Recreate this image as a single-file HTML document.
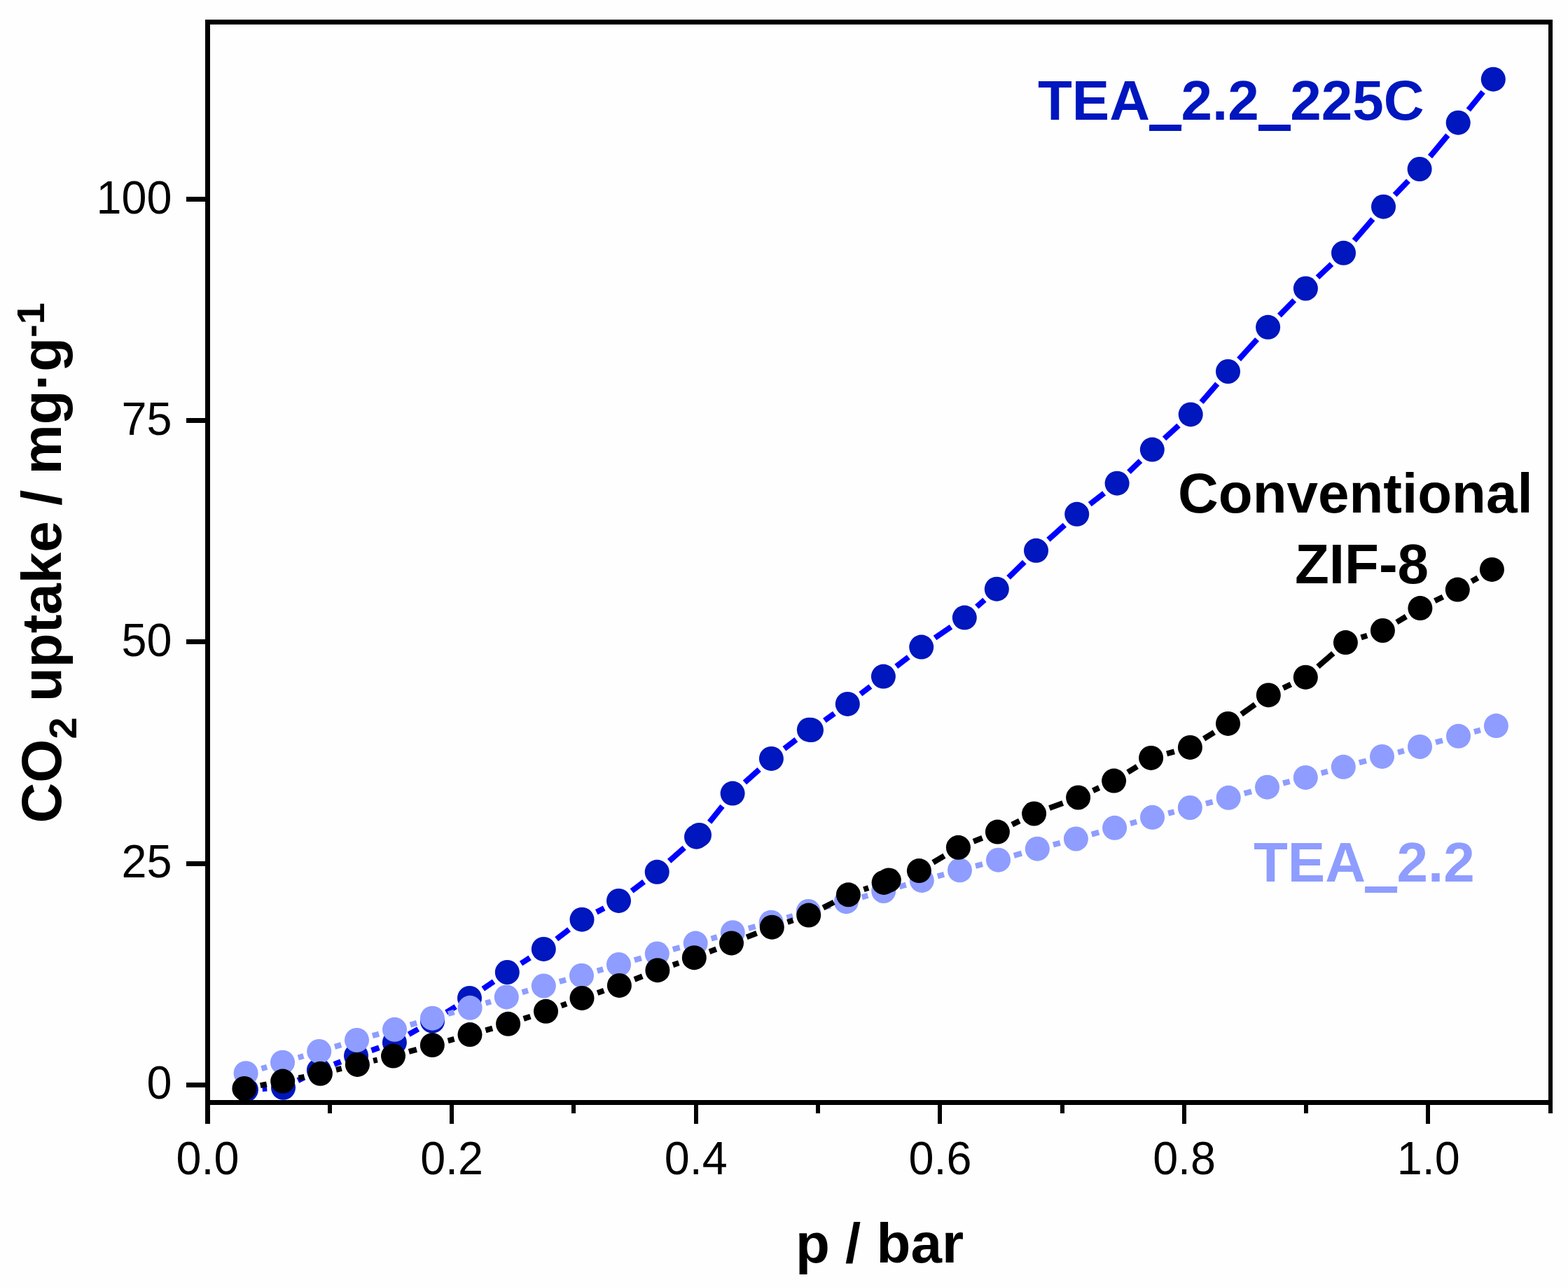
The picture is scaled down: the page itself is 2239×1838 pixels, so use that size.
<!DOCTYPE html>
<html><head><meta charset="utf-8"><title>CO2 uptake</title>
<style>html,body{margin:0;padding:0;background:#fefefe;}svg{display:block;}</style>
</head><body>
<svg width="2239" height="1838" viewBox="0 0 2239 1838">
<rect width="2239" height="1838" fill="#fefefe"/>
<defs><clipPath id="pc"><rect x="300" y="35" width="1911" height="1536"/></clipPath></defs>
<g clip-path="url(#pc)">
<path d="M374.7 1555.0L381.2 1554.6M425.4 1543.1L434.5 1538.7M477.1 1520.0L486.8 1516.2M530.5 1500.1L541.4 1496.3M583.7 1477.3L597.2 1469.6M637.3 1445.9L650.7 1437.7M689.7 1412.2L705.1 1401.7M744.0 1376.0L756.6 1367.9M794.7 1341.2L812.6 1327.4M851.8 1302.6L862.7 1297.0M902.1 1272.4L919.6 1259.3M955.6 1229.8L977.1 1210.7M1013.1 1174.3L1031.5 1151.3M1063.4 1117.5L1084.1 1099.0M1119.9 1069.3L1136.9 1056.3M1177.4 1029.0L1191.4 1019.0M1228.8 991.2L1242.9 980.3M1279.8 951.8L1297.3 938.4M1335.0 911.0L1358.0 895.2M1394.7 866.6L1405.9 856.7M1440.0 824.9L1462.8 802.6M1496.9 770.8L1520.3 749.8M1556.2 720.1L1576.6 704.4M1611.9 674.1L1628.5 658.2M1662.5 626.4L1683.0 607.6M1715.5 574.3L1738.2 548.1M1769.1 513.2L1795.0 484.6M1826.8 450.6L1848.2 428.7M1881.4 396.1L1901.5 377.2M1933.7 343.7L1960.3 312.8M1991.6 278.4L2011.0 258.3M2042.0 223.6L2067.3 193.1M2096.8 157.1L2117.7 131.3" stroke="#0000ff" stroke-width="8" fill="none"/>
<g fill="#0016be"><circle cx="351.4" cy="1556.3" r="17.5"/><circle cx="404.5" cy="1553.3" r="17.5"/><circle cx="455.4" cy="1528.5" r="17.5"/><circle cx="508.5" cy="1507.7" r="17.5"/><circle cx="563.4" cy="1488.7" r="17.5"/><circle cx="617.5" cy="1458.2" r="17.5"/><circle cx="670.5" cy="1425.4" r="17.5"/><circle cx="724.3" cy="1388.5" r="17.5"/><circle cx="776.3" cy="1355.4" r="17.5"/><circle cx="831.0" cy="1313.2" r="17.5"/><circle cx="883.5" cy="1286.4" r="17.5"/><circle cx="938.2" cy="1245.3" r="17.5"/><circle cx="994.5" cy="1195.2" r="17.5"/><circle cx="998.5" cy="1192.5" r="17.5"/><circle cx="1046.1" cy="1133.1" r="17.5"/><circle cx="1101.4" cy="1083.4" r="17.5"/><circle cx="1155.4" cy="1042.2" r="17.5"/><circle cx="1158.5" cy="1042.6" r="17.5"/><circle cx="1210.3" cy="1005.4" r="17.5"/><circle cx="1261.4" cy="966.1" r="17.5"/><circle cx="1315.7" cy="924.1" r="17.5"/><circle cx="1377.3" cy="882.1" r="17.5"/><circle cx="1423.3" cy="841.2" r="17.5"/><circle cx="1479.5" cy="786.3" r="17.5"/><circle cx="1537.7" cy="734.3" r="17.5"/><circle cx="1595.1" cy="690.2" r="17.5"/><circle cx="1645.3" cy="642.1" r="17.5"/><circle cx="1700.2" cy="591.9" r="17.5"/><circle cx="1753.5" cy="530.5" r="17.5"/><circle cx="1810.6" cy="467.3" r="17.5"/><circle cx="1864.4" cy="412.0" r="17.5"/><circle cx="1918.5" cy="361.3" r="17.5"/><circle cx="1975.5" cy="295.2" r="17.5"/><circle cx="2027.1" cy="241.5" r="17.5"/><circle cx="2082.2" cy="175.2" r="17.5"/><circle cx="2132.3" cy="113.2" r="17.5"/></g>
<path d="M373.4 1526.1L381.2 1523.8M425.8 1510.5L433.4 1508.2M478.0 1494.8L487.2 1492.1M531.9 1479.1L541.1 1476.6M585.8 1463.6L595.1 1460.9M639.9 1448.0L648.6 1445.5M693.4 1432.7L701.0 1430.5M745.6 1417.2L754.0 1414.7M798.8 1401.9L808.0 1399.3M852.8 1386.6L861.2 1384.1M905.9 1371.2L915.9 1368.3M960.8 1355.9L970.7 1353.2M1015.6 1340.6L1023.9 1338.2M1068.8 1325.8L1078.7 1323.1M1123.5 1310.6L1132.0 1308.1M1176.9 1295.7L1185.8 1293.5M1230.8 1281.3L1239.3 1278.9M1284.2 1266.3L1293.8 1263.6M1338.8 1251.3L1348.0 1248.9M1393.0 1236.8L1403.0 1234.2M1447.9 1221.8L1458.9 1218.6M1503.9 1206.4L1513.8 1203.8M1558.8 1191.6L1569.2 1188.7M1614.0 1176.1L1623.1 1173.5M1668.1 1161.5L1676.7 1159.3M1721.9 1147.7L1731.6 1145.1M1776.7 1133.2L1787.0 1130.3M1832.1 1118.5L1841.7 1116.1M1886.7 1104.1L1895.9 1101.6M1940.8 1089.2L1951.0 1086.5M1996.1 1074.6L2004.9 1072.2M2050.0 1060.2L2060.0 1057.5M2105.0 1045.2L2113.9 1042.7" stroke="#8e9dff" stroke-width="8" fill="none"/>
<g fill="#8e9dff"><circle cx="351.1" cy="1532.7" r="17.5"/><circle cx="403.5" cy="1517.2" r="17.5"/><circle cx="455.7" cy="1501.5" r="17.5"/><circle cx="509.5" cy="1485.4" r="17.5"/><circle cx="563.5" cy="1470.3" r="17.5"/><circle cx="617.4" cy="1454.2" r="17.5"/><circle cx="671.1" cy="1439.3" r="17.5"/><circle cx="723.3" cy="1423.9" r="17.5"/><circle cx="776.3" cy="1408.0" r="17.5"/><circle cx="830.5" cy="1393.2" r="17.5"/><circle cx="883.5" cy="1377.5" r="17.5"/><circle cx="938.3" cy="1362.0" r="17.5"/><circle cx="993.2" cy="1347.1" r="17.5"/><circle cx="1046.3" cy="1331.7" r="17.5"/><circle cx="1101.2" cy="1317.2" r="17.5"/><circle cx="1154.3" cy="1301.5" r="17.5"/><circle cx="1208.4" cy="1287.7" r="17.5"/><circle cx="1261.7" cy="1272.5" r="17.5"/><circle cx="1316.3" cy="1257.4" r="17.5"/><circle cx="1370.5" cy="1242.8" r="17.5"/><circle cx="1425.5" cy="1228.2" r="17.5"/><circle cx="1481.3" cy="1212.2" r="17.5"/><circle cx="1536.4" cy="1198.0" r="17.5"/><circle cx="1591.6" cy="1182.3" r="17.5"/><circle cx="1645.5" cy="1167.3" r="17.5"/><circle cx="1699.3" cy="1153.5" r="17.5"/><circle cx="1754.2" cy="1139.3" r="17.5"/><circle cx="1809.5" cy="1124.2" r="17.5"/><circle cx="1864.3" cy="1110.4" r="17.5"/><circle cx="1918.3" cy="1095.3" r="17.5"/><circle cx="1973.5" cy="1080.4" r="17.5"/><circle cx="2027.5" cy="1066.4" r="17.5"/><circle cx="2082.5" cy="1051.3" r="17.5"/><circle cx="2136.4" cy="1036.6" r="17.5"/></g>
<path d="M371.8 1550.2L380.8 1548.4M426.5 1539.5L434.6 1537.9M480.0 1527.8L487.8 1525.9M533.1 1514.9L538.8 1513.6M583.9 1501.9L594.9 1498.8M639.7 1486.3L648.6 1483.9M693.4 1471.3L703.2 1468.6M747.7 1454.9L757.4 1451.7M801.4 1436.3L809.1 1433.4M853.1 1418.0L862.3 1414.8M906.0 1398.8L917.3 1394.3M960.9 1378.1L969.3 1375.3M1013.0 1359.2L1022.8 1355.4M1066.2 1338.4L1080.6 1332.7M1124.5 1317.0L1132.5 1314.3M1175.4 1296.4L1190.7 1288.5M1233.4 1270.2L1240.1 1268.0M1332.4 1231.7L1348.4 1222.2M1390.1 1201.7L1402.7 1196.7M1445.2 1177.7L1455.8 1172.4M1498.5 1154.0L1517.7 1147.0M1560.7 1129.1L1569.5 1125.0M1610.4 1102.9L1623.8 1094.6M1666.1 1076.4L1676.9 1073.4M1719.1 1055.0L1733.8 1045.8M1772.6 1020.0L1792.2 1006.1M1832.3 982.6L1843.3 977.3M1881.9 951.9L1903.8 932.9M1943.6 910.4L1952.2 907.7M1994.4 888.6L2007.9 880.5M2048.8 858.2L2060.4 852.5M2101.4 830.3L2110.3 825.2" stroke="#000" stroke-width="8" fill="none"/>
<g fill="#000"><circle cx="348.9" cy="1554.5" r="17.5"/><circle cx="403.7" cy="1544.1" r="17.5"/><circle cx="457.4" cy="1533.3" r="17.5"/><circle cx="510.4" cy="1520.4" r="17.5"/><circle cx="561.5" cy="1508.1" r="17.5"/><circle cx="617.3" cy="1492.6" r="17.5"/><circle cx="671.0" cy="1477.6" r="17.5"/><circle cx="725.6" cy="1462.3" r="17.5"/><circle cx="779.5" cy="1444.3" r="17.5"/><circle cx="831.0" cy="1425.4" r="17.5"/><circle cx="884.4" cy="1407.4" r="17.5"/><circle cx="938.9" cy="1385.7" r="17.5"/><circle cx="991.3" cy="1367.7" r="17.5"/><circle cx="1044.5" cy="1346.9" r="17.5"/><circle cx="1102.3" cy="1324.2" r="17.5"/><circle cx="1154.7" cy="1307.1" r="17.5"/><circle cx="1211.4" cy="1277.8" r="17.5"/><circle cx="1262.1" cy="1260.4" r="17.5"/><circle cx="1269.3" cy="1257.0" r="17.5"/><circle cx="1312.4" cy="1243.6" r="17.5"/><circle cx="1368.4" cy="1210.3" r="17.5"/><circle cx="1424.4" cy="1188.1" r="17.5"/><circle cx="1476.6" cy="1162.0" r="17.5"/><circle cx="1539.6" cy="1139.0" r="17.5"/><circle cx="1590.6" cy="1115.1" r="17.5"/><circle cx="1643.6" cy="1082.4" r="17.5"/><circle cx="1699.4" cy="1067.4" r="17.5"/><circle cx="1753.5" cy="1033.4" r="17.5"/><circle cx="1811.3" cy="992.7" r="17.5"/><circle cx="1864.3" cy="967.2" r="17.5"/><circle cx="1921.4" cy="917.6" r="17.5"/><circle cx="1974.4" cy="900.5" r="17.5"/><circle cx="2027.9" cy="868.6" r="17.5"/><circle cx="2081.3" cy="842.1" r="17.5"/><circle cx="2130.4" cy="813.4" r="17.5"/></g>
</g>
<g fill="#000">
<rect x="293" y="28" width="7" height="1550"/>
<rect x="2211" y="28" width="6" height="1550"/>
<rect x="293" y="28" width="1924" height="7"/>
<rect x="293" y="1571" width="1924" height="7"/>
<rect x="293" y="1578" width="7" height="27"/>
<rect x="468" y="1578" width="6" height="12"/>
<rect x="642" y="1578" width="6" height="27"/>
<rect x="816" y="1578" width="6" height="12"/>
<rect x="991" y="1578" width="6" height="27"/>
<rect x="1165" y="1578" width="6" height="12"/>
<rect x="1339" y="1578" width="6" height="27"/>
<rect x="1514" y="1578" width="6" height="12"/>
<rect x="1688" y="1578" width="6" height="27"/>
<rect x="1862" y="1578" width="6" height="12"/>
<rect x="2036" y="1578" width="6" height="27"/>
<rect x="2211" y="1578" width="6" height="12"/>
<rect x="266" y="1546" width="27" height="7"/>
<rect x="266" y="1230" width="27" height="7"/>
<rect x="266" y="913" width="27" height="7"/>
<rect x="266" y="597" width="27" height="7"/>
<rect x="266" y="281" width="27" height="7"/>
</g>
<g font-family="Liberation Sans, Arial, sans-serif" font-size="67" fill="#000">
<text transform="translate(296.5,1677) scale(0.965,1)" text-anchor="middle">0.0</text>
<text transform="translate(645.1,1677) scale(0.965,1)" text-anchor="middle">0.2</text>
<text transform="translate(993.8,1677) scale(0.965,1)" text-anchor="middle">0.4</text>
<text transform="translate(1342.4,1677) scale(0.965,1)" text-anchor="middle">0.6</text>
<text transform="translate(1691.1,1677) scale(0.965,1)" text-anchor="middle">0.8</text>
<text transform="translate(2039.7,1677) scale(0.965,1)" text-anchor="middle">1.0</text>
<text transform="translate(245.4,1569.3) scale(0.965,1)" text-anchor="end">0</text>
<text transform="translate(245.4,1253.1) scale(0.965,1)" text-anchor="end">25</text>
<text transform="translate(245.4,936.9) scale(0.965,1)" text-anchor="end">50</text>
<text transform="translate(245.4,620.7) scale(0.965,1)" text-anchor="end">75</text>
<text transform="translate(245.4,304.5) scale(0.965,1)" text-anchor="end">100</text>
</g>
<g font-family="Liberation Sans, Arial, sans-serif" font-size="80" font-weight="bold" fill="#000">
<text x="1256" y="1803" text-anchor="middle">p / bar</text>
<text transform="translate(87.2,1175.4) rotate(-90)" x="0" y="0">CO<tspan font-size="56" dy="21.4">2</tspan><tspan dy="-21.4"> uptake / mg·g</tspan><tspan font-size="56" dy="-24.5">-1</tspan></text>
</g>
<g font-family="Liberation Sans, Arial, sans-serif" font-size="80" font-weight="bold">
<text x="1482" y="171.4" fill="#0016be">TEA_2.2_225C</text>
<text x="1682" y="732.2" fill="#000">Conventional</text>
<text x="1849" y="833.3" fill="#000">ZIF-8</text>
<text x="1790" y="1258.6" fill="#8e9dff">TEA_2.2</text>
</g>
<g fill="#0016be"><rect x="1641" y="180" width="46" height="7"/><rect x="1797" y="180" width="46" height="7"/></g>
<rect x="1949" y="1268" width="46" height="7" fill="#8e9dff"/>
</svg>
</body></html>
